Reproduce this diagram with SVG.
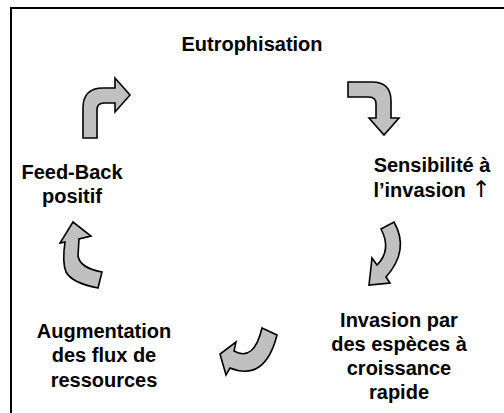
<svg xmlns="http://www.w3.org/2000/svg" width="504" height="413" viewBox="0 0 504 413">
<style>
.lbl{font-family:"Liberation Sans",Arial,sans-serif;font-weight:bold;font-size:20px;fill:#000;text-anchor:middle}
.sym{font-family:"DejaVu Sans",sans-serif;font-weight:normal;font-size:23px;fill:#000}
.arr{fill:#c0c0c0;stroke:#000;stroke-width:1.6;stroke-linejoin:miter}
</style>
<rect width="504" height="413" fill="#fff"/>
<path d="M11,413 L11,8 L504,8" fill="none" stroke="#000" stroke-width="2"/>
<g id="eutrophisation"><text class="lbl" x="252" y="51">Eutrophisation</text></g>
<g id="sensibilite"><text class="lbl" x="432" y="172">Sensibilité à</text><text class="lbl" x="432" y="197">l’invasion <tspan class="sym">↑</tspan></text></g>
<g id="invasion"><text class="lbl" x="399" y="327">Invasion par</text><text class="lbl" x="399" y="351">des espèces à</text><text class="lbl" x="399" y="375">croissance</text><text class="lbl" x="399" y="399">rapide</text></g>
<g id="augmentation"><text class="lbl" x="104" y="338">Augmentation</text><text class="lbl" x="104" y="362">des flux de</text><text class="lbl" x="104" y="387">ressources</text></g>
<g id="feedback"><text class="lbl" x="72" y="179">Feed-Back</text><text class="lbl" x="72" y="203">positif</text></g>
<g id="connectors">
<path class="arr" d="M348,82 L372,82 Q391,82 391,101 L391,118 L399,118 L384,135 L369,118 L376,118 L376,104 Q376,97 369,97 L348,97 Z"/>
<path class="arr" d="M381,229 L394,222 Q410,250 386,277 L390,283 L369,285 L372,258 L377,265 Q392,250 381,229 Z"/>
<path class="arr" d="M262,328 L277,335 Q265,382 230,368 L226,375 L220,354 L236,342 L234,351 Q254,362 262,328 Z"/>
<path class="arr" d="M65,242 Q62,262 66,272 Q72,283 98,288 L102,272 Q80,268 78,256 L79,239 L91,236 L73,222 L60,243 Z"/>
<path class="arr" d="M83,138 L83,108 Q83,88 103,88 L115,88 L115,78 L130,95 L115,112 L115,103 L104,103 Q97,103 97,110 L97,138 Z"/>
</g>
</svg>
